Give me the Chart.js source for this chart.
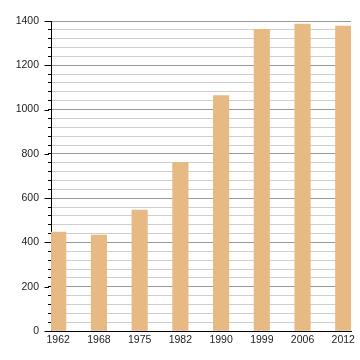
<!DOCTYPE html>
<html>
<head>
<meta charset="utf-8">
<script src="https://cdn.jsdelivr.net/npm/chart.js@4/dist/chart.umd.min.js"></script>
<style>
html,body{margin:0;padding:0;background:#fff;}
#wrap{width:360px;height:360px;position:relative;}
</style>
</head>
<body>
<div id="wrap"><canvas id="c" width="360" height="360"></canvas></div>
<script>
const years = ['1962','1968','1975','1982','1990','1999','2006','2012'];
const population = [447, 433, 546, 762, 1063, 1362, 1386, 1377];
const yMax = 1400;
const yMajorStep = 200;
const yMinorStep = 40;

const majorTicks = {
  id: 'majorTicks',
  afterDraw(chart) {
    const y = chart.scales.y;
    const ctx = chart.ctx;
    const x0 = chart.chartArea.left;
    ctx.save();
    ctx.strokeStyle = '#000';
    ctx.lineWidth = 1;
    y.ticks.forEach(t => {
      if (t.value % yMajorStep === 0) {
        const py = Math.round(y.getPixelForValue(t.value)) + 0.5;
        ctx.beginPath();
        ctx.moveTo(x0 - 6.5, py);
        ctx.lineTo(x0 - 2, py);
        ctx.stroke();
      }
    });
    ctx.restore();
  }
};

new Chart(document.getElementById('c'), {
  type: 'bar',
  data: {
    datasets: [{
      data: years.map((yr, i) => ({x: i, y: population[i]})),
      backgroundColor: '#E6BA82',
      borderWidth: 0,
      barThickness: 15.5
    }]
  },
  options: {
    responsive: false,
    animation: false,
    layout: {padding: {left: 0, right: 9, top: 21, bottom: 0}},
    plugins: {legend: {display: false}, tooltip: {enabled: false}},
    scales: {
      x: {
        type: 'linear',
        offset: false,
        bounds: 'data',
        min: -0.177,
        max: 7.19,
        afterBuildTicks: s => { s.ticks = years.map((_, i) => ({value: i})); },
        afterFit: s => { s.height = 29; },
        grid: {display: false, drawTicks: false},
        border: {display: true, color: '#000', width: 1},
        ticks: {
          autoSkip: false,
          maxRotation: 0,
          padding: 3,
          color: '#222',
          font: {family: 'Liberation Sans, Arial, sans-serif', size: 10.5},
          callback: v => years[v] !== undefined ? years[v] : ''
        }
      },
      y: {
        min: 0,
        max: yMax,
        afterFit: s => { s.width = 51; },
        grid: {
          color: ctx => (ctx.tick && ctx.tick.value % yMajorStep === 0) ? '#9a9a9a' : '#cfcfcf',
          tickColor: '#000',
          tickLength: 3,
          drawTicks: true
        },
        border: {display: true, color: '#000', width: 1},
        ticks: {
          stepSize: yMinorStep,
          autoSkip: false,
          padding: 9,
          color: '#222',
          font: {family: 'Liberation Sans, Arial, sans-serif', size: 10.5},
          callback: v => (v % yMajorStep === 0) ? String(v) : ''
        }
      }
    }
  },
  plugins: [majorTicks]
});
</script>
</body>
</html>
